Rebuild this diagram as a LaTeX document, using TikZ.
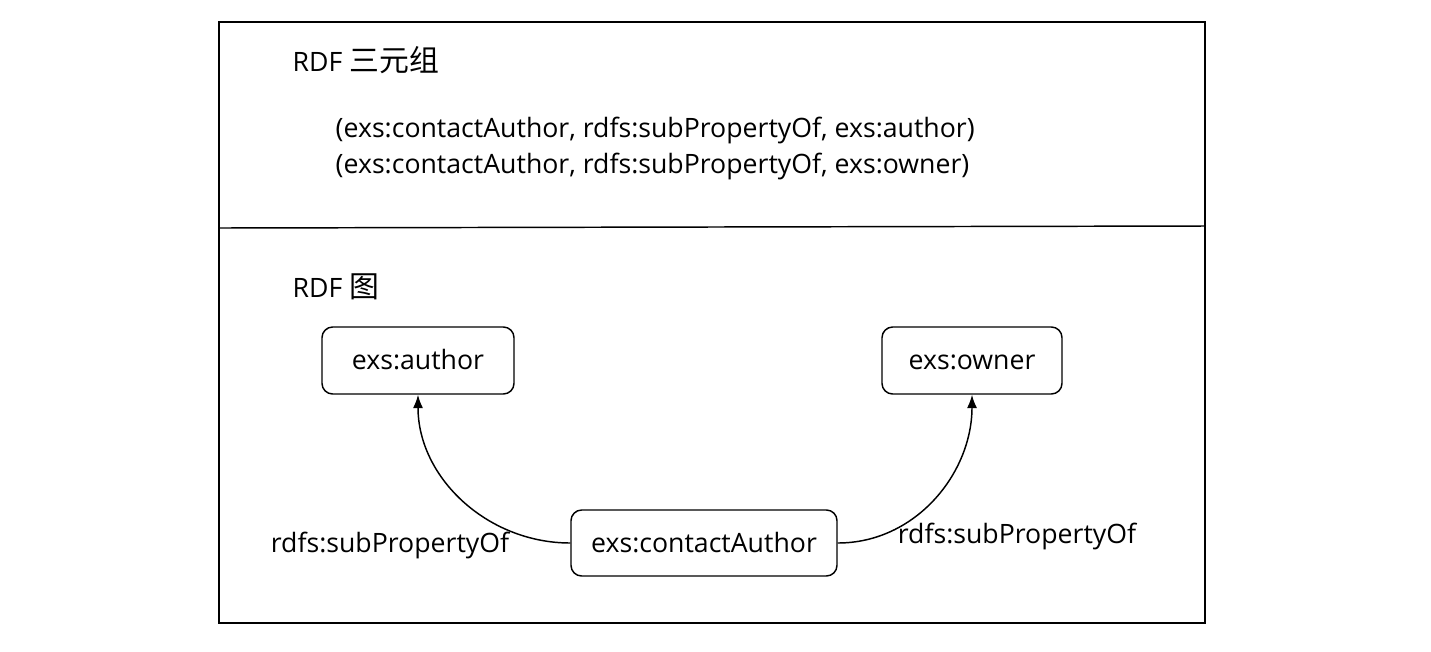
\documentclass[tikz,border=0pt]{standalone}
\usepackage{fontspec}
\setmainfont{Open Sans}
\newfontfamily\cjk[Scale=1.12]{Noto Sans CJK SC}
\usetikzlibrary{arrows.meta}
\begin{document}
\begin{tikzpicture}[x=0.75pt,y=-0.75pt,
  every node/.style={font=\fontsize{20}{24}\selectfont},
  rbox/.style={draw,line width=1.1pt,rounded corners=8pt,inner sep=0pt,text height=16pt,text depth=2pt},
  link/.style={draw,line width=1.1pt,-{Latex[length=10pt,width=7.5pt]}},
  frame/.style={draw,line width=1.1pt}]
\useasboundingbox (0,0) rectangle (1431,651);
\draw[frame] (219,22) rectangle (1205,623);
\draw[frame] (219,228) -- (1205,226);
\node[anchor=west] (t1) at (288,60) {RDF {\cjk 三元组}};
\node[anchor=west] (tr1) at (331,130) {(exs:contactAuthor, rdfs:subPropertyOf, exs:author)};
\node[anchor=west] (tr2) at (331,166) {(exs:contactAuthor, rdfs:subPropertyOf, exs:owner)};
\node[anchor=west] (t2) at (288,287) {RDF {\cjk 图}};
\node[rbox,minimum width=192*0.75pt,minimum height=67*0.75pt] (author) at (418,360.5) {exs:author};
\node[rbox,minimum width=180*0.75pt,minimum height=67*0.75pt] (owner) at (972,360.5) {exs:owner};
\node[rbox,minimum width=266*0.75pt,minimum height=66*0.75pt] (ca) at (704,543) {exs:contactAuthor};
\path[link] (ca.west) to[out=180,in=-90] (author.south);
\path[link] (ca.east) to[out=0,in=-90] (owner.south);
\node (l1) at (390,545) {rdfs:subPropertyOf};
\node (l2) at (1017,536) {rdfs:subPropertyOf};
\end{tikzpicture}
\end{document}
